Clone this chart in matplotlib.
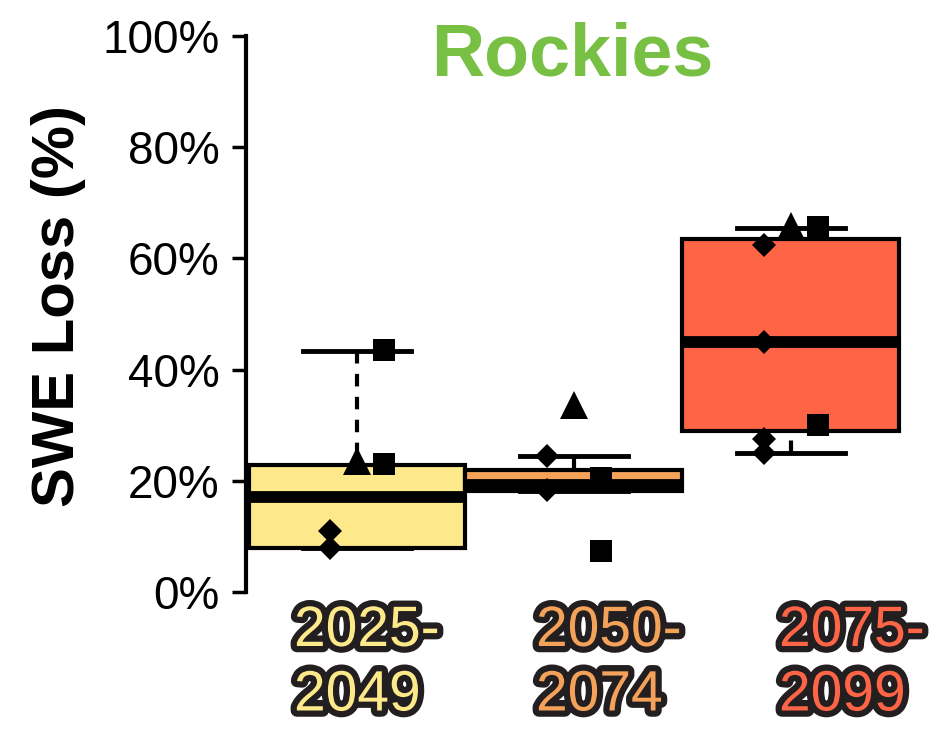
import matplotlib
matplotlib.use("Agg")
import matplotlib.pyplot as plt
import matplotlib.patheffects as pe

plt.rcParams["font.family"] = ["Liberation Sans", "DejaVu Sans"]

# Periods and their colours
periods = ["2025-\n2049", "2050-\n2074", "2075-\n2099"]
period_colors = ["#FEE98A", "#F4A25A", "#FE6446"]

# Box summaries, SWE loss in percent
whisker_low = [7.9, 18.2, 25.0]
q1 = [7.9, 18.2, 28.9]
median = [17.0, 19.3, 44.9]
q3 = [22.8, 21.9, 63.5]
whisker_high = [43.4, 24.5, 65.4]

# Individual ensemble members, grouped by marker
diamond_vals = [[11.0, 7.9], [24.5, 18.3], [62.4, 44.9, 27.6, 25.0]]
triangle_vals = [[23.6], [33.6], [65.8]]
square_vals = [[43.5, 23.0], [20.5, 7.4], [65.7, 30.0]]

yticks = [0, 20, 40, 60, 80, 100]
ytick_labels = ["0%", "20%", "40%", "60%", "80%", "100%"]
title = "Rockies"
ylabel = "SWE Loss (%)"

W, H = 945, 731
fig = plt.figure(figsize=(W / 100, H / 100), dpi=100)
ax = fig.add_axes([246 / W, 1 - 592 / H, (940 - 246) / W, (592 - 36) / H])

positions = [1, 2, 3]
stats = []
for i in range(3):
    stats.append(dict(whislo=whisker_low[i], q1=q1[i], med=median[i],
                      q3=q3[i], whishi=whisker_high[i], fliers=[]))

bp = ax.bxp(stats, positions=positions, widths=1.0, capwidths=0.5,
            patch_artist=True, showfliers=False,
            boxprops=dict(linewidth=3, edgecolor="black"),
            medianprops=dict(linewidth=8.5, color="black", solid_capstyle="butt"),
            whiskerprops=dict(linewidth=3, color="black", linestyle=(0, (3, 2.5))),
            capprops=dict(linewidth=3.5, color="black"))
for patch, c in zip(bp["boxes"], period_colors):
    patch.set_facecolor(c)
    patch.set_zorder(2)
for med in bp["medians"]:
    med.set_zorder(3)
# run whisker dashes outward from the caps
for w in bp["whiskers"]:
    w.set_xdata(w.get_xdata()[::-1])
    w.set_ydata(w.get_ydata()[::-1])
    w.set_zorder(1)

offset = 0.125
for i, x in enumerate(positions):
    ax.plot([x - offset] * len(diamond_vals[i]), diamond_vals[i], "D",
            color="black", ms=12, mew=0, zorder=5, clip_on=False)
    ax.plot([x] * len(triangle_vals[i]), triangle_vals[i], "^",
            color="black", ms=20, mew=0, zorder=5, clip_on=False)
    ax.plot([x + offset] * len(square_vals[i]), square_vals[i], "s",
            color="black", ms=16, mew=0, zorder=5, clip_on=False)

x_left = 1 - (357 - 246) / 217
x_right = 3 + (940 - 791) / 217
ax.set_xlim(x_left, x_right)
ax.set_ylim(0, 100)

for s in ["top", "right", "bottom"]:
    ax.spines[s].set_visible(False)
ax.spines["left"].set_linewidth(3)
ax.spines["left"].set_bounds(0, 100)
ax.set_xticks([])
ax.set_yticks(yticks)
ax.set_yticklabels(ytick_labels)
ax.tick_params(axis="y", length=10, width=2.5, pad=9, labelsize=33)
ax.patch.set_alpha(0)

fig.text(572 / W, 1 - 75.5 / H, title, color="#77C043", fontsize=53,
         fontweight="bold", ha="center", va="baseline")
fig.text(59 / W, 1 - 306 / H, ylabel, fontsize=43, fontweight="bold",
         rotation=90, ha="center", va="center")

label_left = [294, 536, 779]
for lbl, c, xl in zip(periods, period_colors, label_left):
    fig.text(xl / W, 1 - 604 / H, lbl, color=c, fontsize=41, ha="left",
             va="top", linespacing=1.25,
             path_effects=[pe.Stroke(linewidth=9, foreground="#231F20"),
                           pe.Normal()])

fig.savefig("out.png", dpi=100)
